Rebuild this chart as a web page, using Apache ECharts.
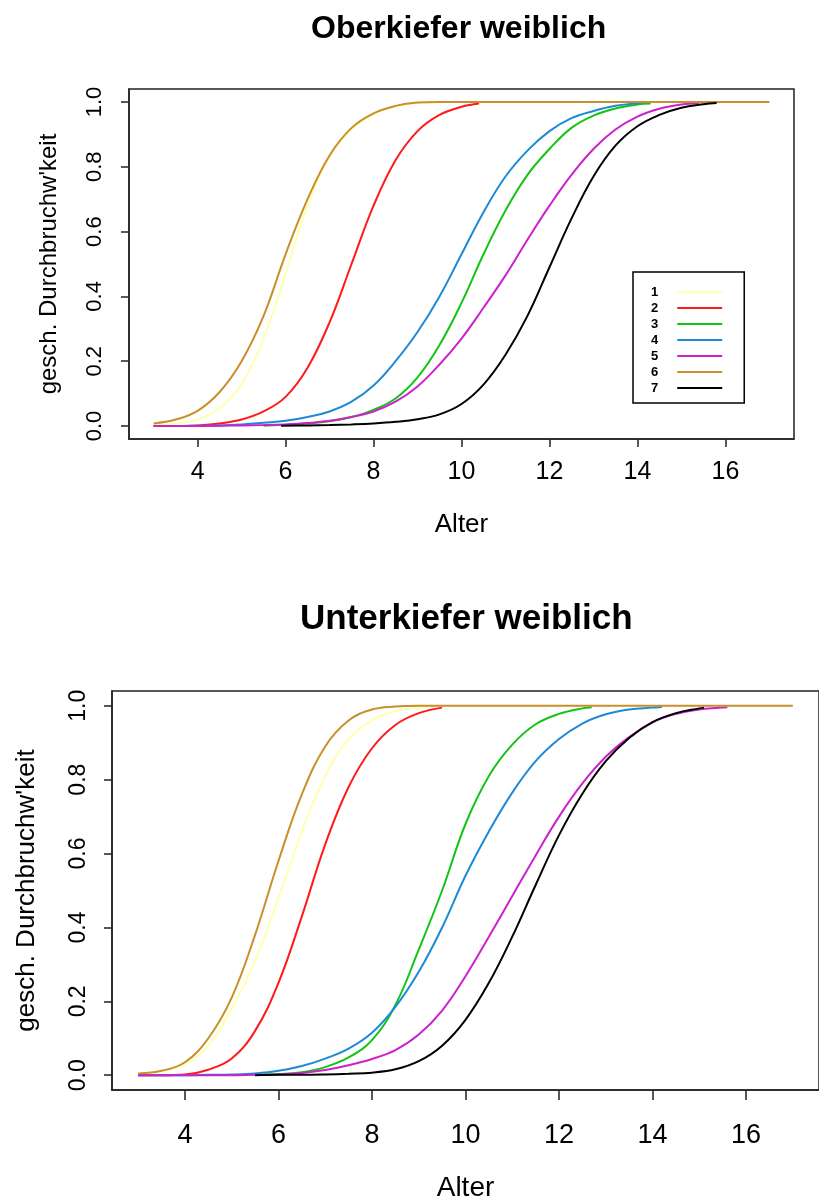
<!DOCTYPE html>
<html>
<head>
<meta charset="utf-8">
<title>Durchbruchwahrscheinlichkeit weiblich</title>
<script src="https://cdn.jsdelivr.net/npm/echarts@6/dist/echarts.min.js"></script>
<style>
  html, body { margin: 0; padding: 0; background: #ffffff; }
  #chart { width: 819px; height: 1203px; }
</style>
</head>
<body>
<div id="chart"></div>
<script>
// Tick positions shared by both panels
const xTickValues = [4, 6, 8, 10, 12, 14, 16];
const yTickValues = [0, 0.2, 0.4, 0.6, 0.8, 1.0];

const toothNames = ['1', '2', '3', '4', '5', '6', '7'];
const toothColors = ['#ffffb0', '#ff1a1a', '#14c414', '#1c8ad6', '#cc22cc', '#c8902a', '#000000'];

// ---- Oberkiefer (upper jaw), age in years and estimated eruption probability ----
const okAge1 = [3, 3.5, 4, 4.5, 5, 5.5, 6, 6.5, 7, 7.5, 8, 8.5, 9, 9.5];
const okVal1 = [0.003, 0.008, 0.02, 0.055, 0.13, 0.27, 0.47, 0.68, 0.83, 0.915, 0.962, 0.986, 0.997, 1.0];

const okAge2 = [3, 3.5, 4, 4.5, 5, 5.5, 6, 6.5, 7, 7.5, 8, 8.5, 9, 9.5, 10, 10.4];
const okVal2 = [0, 0, 0.002, 0.008, 0.02, 0.045, 0.09, 0.18, 0.32, 0.5, 0.68, 0.82, 0.91, 0.96, 0.985, 0.995];

const okAge3 = [5.5, 6, 6.5, 7, 7.5, 8, 8.5, 9, 9.5, 10, 10.5, 11, 11.5, 12, 12.5, 13, 13.5, 14, 14.3];
const okVal3 = [0.001, 0.004, 0.008, 0.015, 0.028, 0.05, 0.085, 0.15, 0.25, 0.38, 0.53, 0.665, 0.775, 0.855, 0.92, 0.958, 0.98, 0.992, 0.995];

const okAge4 = [3, 3.5, 4, 4.5, 5, 5.5, 6, 6.5, 7, 7.5, 8, 8.5, 9, 9.5, 10, 10.5, 11, 11.5, 12, 12.5, 13, 13.5, 14, 14.1];
const okVal4 = [0, 0, 0.001, 0.002, 0.005, 0.01, 0.016, 0.028, 0.045, 0.075, 0.125, 0.2, 0.29, 0.4, 0.53, 0.66, 0.77, 0.85, 0.91, 0.95, 0.972, 0.988, 0.996, 0.997];

const okAge5 = [3, 3.5, 4, 4.5, 5, 5.5, 6, 6.5, 7, 7.5, 8, 8.5, 9, 9.5, 10, 10.5, 11, 11.5, 12, 12.5, 13, 13.5, 14, 14.5, 15, 15.4];
const okVal5 = [0, 0, 0, 0.001, 0.002, 0.003, 0.005, 0.009, 0.016, 0.028, 0.045, 0.075, 0.122, 0.19, 0.27, 0.365, 0.465, 0.575, 0.68, 0.775, 0.855, 0.915, 0.955, 0.979, 0.992, 0.996];

const okAge6 = [3, 3.5, 4, 4.5, 5, 5.5, 6, 6.5, 7, 7.5, 8, 8.5, 9, 9.5, 10, 11, 12, 13, 14, 15, 16, 17];
const okVal6 = [0.008, 0.02, 0.047, 0.105, 0.2, 0.34, 0.53, 0.7, 0.835, 0.92, 0.965, 0.988, 0.998, 1, 1, 1, 1, 1, 1, 1, 1, 1];

const okAge7 = [5.9, 6.5, 7, 7.5, 8, 8.5, 9, 9.5, 10, 10.5, 11, 11.5, 12, 12.5, 13, 13.5, 14, 14.5, 15, 15.5, 15.8];
const okVal7 = [0.001, 0.002, 0.003, 0.005, 0.008, 0.013, 0.021, 0.036, 0.068, 0.128, 0.22, 0.34, 0.49, 0.64, 0.77, 0.865, 0.925, 0.96, 0.982, 0.993, 0.997];

// ---- Unterkiefer (lower jaw) ----
const ukAge1 = [3, 3.5, 4, 4.5, 5, 5.5, 6, 6.5, 7, 7.5, 8, 8.5, 9, 9.5];
const ukVal1 = [0.003, 0.01, 0.03, 0.08, 0.18, 0.31, 0.48, 0.66, 0.81, 0.91, 0.96, 0.985, 0.995, 1.0];

const ukAge2 = [3, 3.5, 4, 4.5, 5, 5.5, 6, 6.5, 7, 7.5, 8, 8.5, 9, 9.5];
const ukVal2 = [0, 0, 0.002, 0.015, 0.045, 0.12, 0.25, 0.43, 0.625, 0.78, 0.885, 0.948, 0.98, 0.995];

const ukAge3 = [5.5, 6, 6.5, 7, 7.5, 8, 8.5, 9, 9.5, 10, 10.5, 11, 11.5, 12, 12.5, 12.7];
const ukVal3 = [0.001, 0.003, 0.008, 0.022, 0.048, 0.095, 0.19, 0.34, 0.5, 0.68, 0.81, 0.895, 0.95, 0.978, 0.993, 0.996];

const ukAge4 = [3, 3.5, 4, 4.5, 5, 5.5, 6, 6.5, 7, 7.5, 8, 8.5, 9, 9.5, 10, 10.5, 11, 11.5, 12, 12.5, 13, 13.5, 14, 14.2];
const ukVal4 = [0, 0, 0, 0.001, 0.002, 0.005, 0.012, 0.025, 0.045, 0.072, 0.115, 0.185, 0.28, 0.4, 0.54, 0.66, 0.765, 0.85, 0.91, 0.952, 0.977, 0.99, 0.995, 0.997];

const ukAge5 = [3, 3.5, 4, 4.5, 5, 5.5, 6, 6.5, 7, 7.5, 8, 8.5, 9, 9.5, 10, 10.5, 11, 11.5, 12, 12.5, 13, 13.5, 14, 14.5, 15, 15.6];
const ukVal5 = [0, 0, 0, 0, 0, 0.001, 0.002, 0.006, 0.014, 0.027, 0.044, 0.068, 0.11, 0.175, 0.268, 0.375, 0.485, 0.595, 0.7, 0.79, 0.862, 0.915, 0.955, 0.978, 0.99, 0.996];

const ukAge6 = [3, 3.5, 4, 4.5, 5, 5.5, 6, 6.5, 7, 7.5, 8, 8.5, 9, 10, 11, 12, 13, 14, 15, 16, 17];
const ukVal6 = [0.005, 0.012, 0.035, 0.1, 0.21, 0.38, 0.58, 0.76, 0.89, 0.96, 0.99, 0.998, 1, 1, 1, 1, 1, 1, 1, 1, 1];

const ukAge7 = [5.5, 6, 6.5, 7, 7.5, 8, 8.5, 9, 9.5, 10, 10.5, 11, 11.5, 12, 12.5, 13, 13.5, 14, 14.5, 15, 15.1];
const ukVal7 = [0, 0.001, 0.001, 0.002, 0.004, 0.007, 0.016, 0.038, 0.08, 0.15, 0.25, 0.375, 0.515, 0.65, 0.762, 0.85, 0.913, 0.956, 0.98, 0.993, 0.995];

const upperCurves = [[okAge1, okVal1], [okAge2, okVal2], [okAge3, okVal3], [okAge4, okVal4], [okAge5, okVal5], [okAge6, okVal6], [okAge7, okVal7]];
const lowerCurves = [[ukAge1, ukVal1], [ukAge2, ukVal2], [ukAge3, ukVal3], [ukAge4, ukVal4], [ukAge5, ukVal5], [ukAge6, ukVal6], [ukAge7, ukVal7]];

const SANS = "'Liberation Sans', Arial, sans-serif";

function pairs(ages, vals) {
  return ages.map((a, i) => [a, vals[i]]);
}

function makeSeries(curves, axisIndex) {
  return curves.map(([ages, vals], i) => ({
    name: toothNames[i],
    type: 'line',
    xAxisIndex: axisIndex,
    yAxisIndex: axisIndex,
    data: pairs(ages, vals),
    smooth: 0.4,
    symbol: 'none',
    showSymbol: false,
    clip: true,
    silent: true,
    lineStyle: { color: toothColors[i], width: 2 },
    itemStyle: { color: toothColors[i] }
  }));
}

function makeXAxis(gridIndex, s) {
  return {
    type: 'value',
    gridIndex: gridIndex,
    min: 2.44,
    max: 17.56,
    name: 'Alter',
    nameLocation: 'middle',
    nameGap: s.nameGap,
    nameTextStyle: { fontFamily: SANS, fontSize: s.nameSize, color: '#000' },
    axisLine: { show: true, onZero: false, lineStyle: { color: '#222', width: 1.5 } },
    axisTick: { show: true, inside: false, length: s.tickLen, customValues: xTickValues, lineStyle: { color: '#222', width: 1.5 } },
    axisLabel: { customValues: xTickValues, margin: s.labelMargin, fontFamily: SANS, fontSize: s.labelSize, color: '#000' },
    splitLine: { show: false }
  };
}

function makeYAxis(gridIndex, s) {
  return {
    type: 'value',
    gridIndex: gridIndex,
    min: -0.04,
    max: 1.04,
    name: "gesch. Durchbruchw'keit",
    nameLocation: 'middle',
    nameGap: s.nameGap,
    nameTextStyle: { fontFamily: SANS, fontSize: s.nameSize, color: '#000' },
    axisLine: { show: true, onZero: false, lineStyle: { color: '#222', width: 1.5 } },
    axisTick: { show: true, inside: false, length: s.tickLen, customValues: yTickValues, lineStyle: { color: '#222', width: 1.5 } },
    axisLabel: {
      customValues: yTickValues,
      rotate: 90,
      margin: s.labelMargin,
      fontFamily: SANS,
      fontSize: s.labelSize,
      color: '#000',
      formatter: v => v.toFixed(1)
    },
    splitLine: { show: false }
  };
}

const chart = echarts.init(document.getElementById('chart'), null, { renderer: 'canvas' });

chart.setOption({
  backgroundColor: '#ffffff',
  animation: false,
  title: [
    {
      text: 'Oberkiefer weiblich',
      left: 311, top: 13, padding: 0,
      textStyle: { fontFamily: SANS, fontWeight: 'bold', fontSize: 32, color: '#000' }
    },
    {
      text: 'Unterkiefer weiblich',
      left: 300, top: 602, padding: 0,
      textStyle: { fontFamily: SANS, fontWeight: 'bold', fontSize: 35, color: '#000' }
    }
  ],
  grid: [
    { left: 129, top: 89, width: 665, height: 350, show: true, borderColor: '#222', borderWidth: 1.5, backgroundColor: 'transparent' },
    { left: 112, top: 691, width: 714, height: 399, show: true, borderColor: '#222', borderWidth: 1.5, backgroundColor: 'transparent' }
  ],
  xAxis: [
    makeXAxis(0, { nameGap: 73, nameSize: 26, tickLen: 8, labelMargin: 21, labelSize: 25 }),
    makeXAxis(1, { nameGap: 84, nameSize: 28, tickLen: 10, labelMargin: 32, labelSize: 27 })
  ],
  yAxis: [
    makeYAxis(0, { nameGap: 68, nameSize: 24, tickLen: 8, labelMargin: 23, labelSize: 22 }),
    makeYAxis(1, { nameGap: 72, nameSize: 26, tickLen: 8, labelMargin: 22, labelSize: 23 })
  ],
  legend: {
    data: toothNames,
    orient: 'vertical',
    left: 633,
    top: 272,
    align: 'right',
    icon: 'rect',
    itemWidth: 45,
    itemHeight: 2,
    itemGap: 2,
    padding: [13, 22, 8, 18],
    borderColor: '#000',
    borderWidth: 1.5,
    borderRadius: 0,
    backgroundColor: '#ffffff',
    selectedMode: false,
    textStyle: { fontFamily: SANS, fontSize: 13, fontWeight: 'bold', color: '#000', lineHeight: 14, padding: [0, 14, 0, 0] }
  },
  series: makeSeries(upperCurves, 0).concat(makeSeries(lowerCurves, 1))
});
</script>
</body>
</html>
